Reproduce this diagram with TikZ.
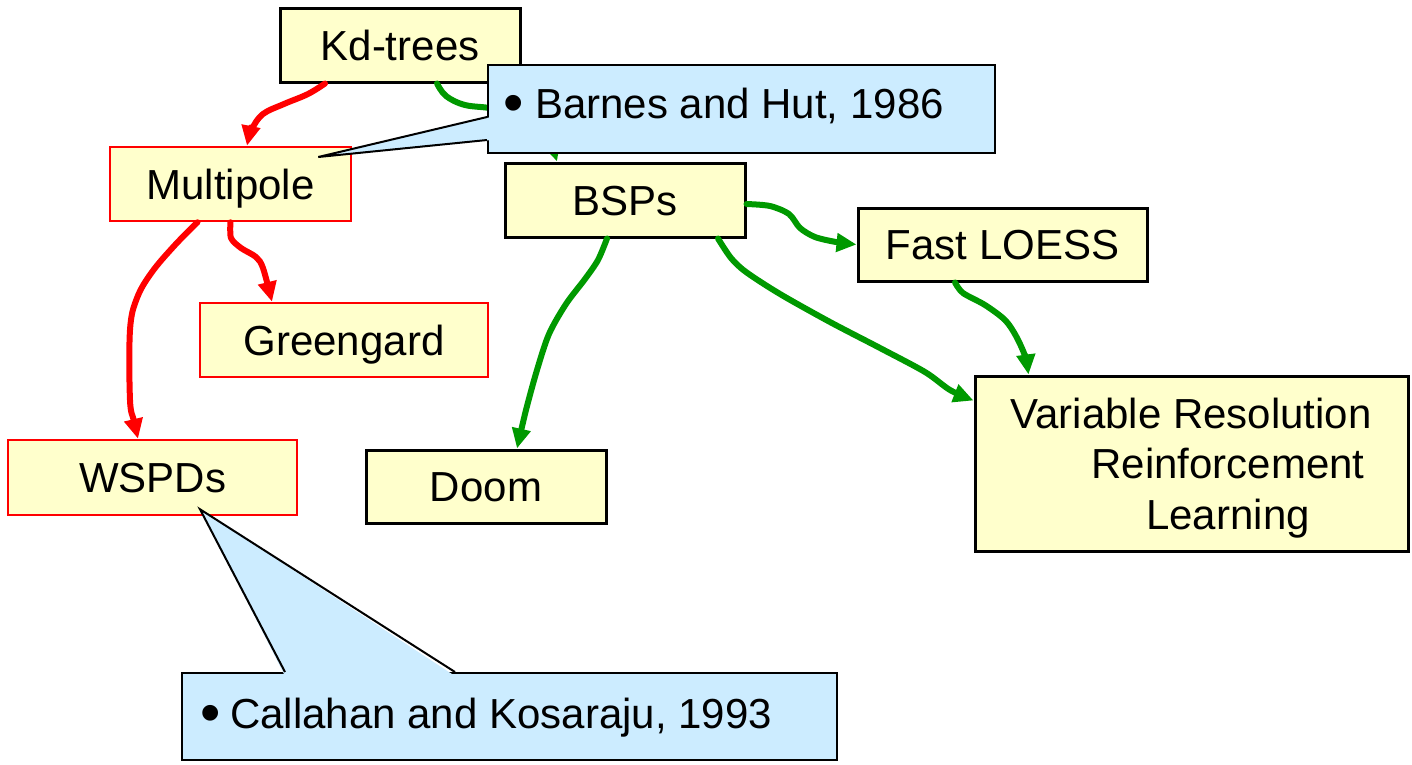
\documentclass[tikz,border=0pt]{standalone}
\usepackage{fontspec}
\setmainfont{Liberation Sans}
\usetikzlibrary{arrows.meta}
\definecolor{boxfill}{HTML}{FFFFCC}
\definecolor{notefill}{HTML}{CCECFF}
\definecolor{linkgreen}{HTML}{009900}
\definecolor{linkred}{HTML}{FF0000}
\newcommand{\notebullet}{\raisebox{-4pt}{\fontsize{58}{58}\selectfont •}}
\tikzset{
  topic/.style={draw=black, line width=3pt, fill=boxfill, inner sep=0pt,
    font=\fontsize{42}{50}\selectfont, text height=30pt, text depth=0pt},
  redtopic/.style={topic, draw=linkred, line width=2.5pt},
  note/.style={draw=black, line width=2pt, fill=notefill, inner sep=0pt},
  label/.style={font=\fontsize{42}{50}\selectfont, inner sep=0pt, anchor=base west},
  vlabel/.style={font=\fontsize{42}{50}\selectfont, inner sep=0pt, anchor=base},
  redlink/.style={draw=linkred, line width=6pt, line join=round, line cap=round,
    -{Triangle[length=20pt,width=18pt]}},
  greenlink/.style={draw=linkgreen, line width=6pt, line join=round, line cap=round,
    -{Triangle[length=20pt,width=18pt]}},
}
\begin{document}
\begin{tikzpicture}[x=1pt, y=-1pt]
\useasboundingbox (0,0) rectangle (1412,764);

% topic boxes
\node[topic, minimum width=240pt, minimum height=74pt] (kd) at (400,45) {Kd-trees};
\node[redtopic, minimum width=241pt, minimum height=74pt] (mp) at (230.5,184) {Multipole};
\node[topic, minimum width=240pt, minimum height=74pt] (bsp) at (625,200) {BSPs};
\node[topic, minimum width=289pt, minimum height=73pt] (fl) at (1002.5,244.5) {Fast LOESS};
\node[redtopic, minimum width=288pt, minimum height=74pt] (gg) at (344,340) {Greengard};
\node[redtopic, minimum width=289pt, minimum height=75pt] (wspd) at (152.5,477.5) {WSPDs};
\node[topic, minimum width=240pt, minimum height=73pt] (doom) at (486,486.5) {Doom};
\node[topic, minimum width=433pt, minimum height=175pt] (var) at (1191.5,463.5) {};
\node[vlabel] (var1) at (1191,428) {Variable Resolution};
\node[vlabel] (var2) at (1228,478) {Reinforcement};
\node[vlabel] (var3) at (1228,529) {Learning};

% red links
\draw[redlink] plot[smooth, tension=0.6] coordinates {([xshift=-75pt]kd.south) (308,94) (284,104) (263,114) (252,129) ([xshift=16.5pt]mp.north)};
\draw[redlink] plot[smooth, tension=0.6] coordinates {([xshift=-33pt]mp.south) (175,245) (152,272) (137,298) (130,330) (130,400) (134,421) ([xshift=-14.5pt]wspd.north)};
\draw[redlink] plot[smooth, tension=0.5] coordinates {(mp.south) (231,238) (241,248) (256,257) (263,268) ([xshift=-72pt]gg.north)};

% green links
\draw[greenlink] plot[smooth, tension=0.6] coordinates {([xshift=37pt]kd.south) (446,96) (465,105) (495,109) (528,120) (549,144) ([xshift=-68pt]bsp.north)};
\draw[greenlink] plot[smooth, tension=0.5] coordinates {([yshift=-4pt]bsp.east) (770,206) (789,214) (800,228) (815,237) (836,242) (fl.west)};
\draw[greenlink] plot[smooth, tension=0.5] coordinates {([xshift=-18pt]bsp.south) (598,260) (585,279) (566,304) (549,334) (537,370) (526,410) ([xshift=31pt]doom.north)};
\draw[greenlink] plot[smooth, tension=0.5] coordinates {([xshift=93pt]bsp.south) (731,258) (746,272) (780,294) (830,322) (880,348) (925,372) (950,390) ([yshift=-26pt]var.north west)};
\draw[greenlink] plot[smooth, tension=0.5] coordinates {([xshift=-47.5pt]fl.south) (963,293) (985,305) (1005,320) (1016,336) (1025,356) ([xshift=55pt]var.north west)};

% callout: Barnes and Hut
\node[note, minimum width=507pt, minimum height=88pt] (bh) at (741.5,109) {};
\coordinate (bhtip) at ([xshift=-34pt,yshift=27pt]mp.east);
\fill[notefill] ([xshift=4pt,yshift=-8pt]bh.west) -- (bhtip) -- ([xshift=4pt,yshift=-31pt]bh.west) -- cycle;
\draw[line width=2pt, line join=miter] ([yshift=-8pt]bh.west) -- (bhtip) -- ([yshift=-31pt]bh.west);
\node[label] (bhtext) at (503,118) {\makebox[32pt][l]{\notebullet}Barnes and Hut, 1986};

% callout: Callahan and Kosaraju
\node[note, minimum width=655pt, minimum height=87pt] (ck) at (509.5,716.5) {};
\coordinate (cktip) at ([xshift=47.5pt,yshift=7pt]wspd.south);
\fill[notefill] ([xshift=-224.5pt,yshift=-4pt]ck.north) -- (cktip) -- ([xshift=-54.5pt,yshift=-4pt]ck.north) -- cycle;
\draw[line width=2pt, line join=miter] ([xshift=-224.5pt]ck.north) -- (cktip) -- ([xshift=-54.5pt]ck.north);
\node[label] (cktext) at (200,728) {\makebox[30pt][l]{\notebullet}Callahan and Kosaraju, 1993};
\end{tikzpicture}
\end{document}
